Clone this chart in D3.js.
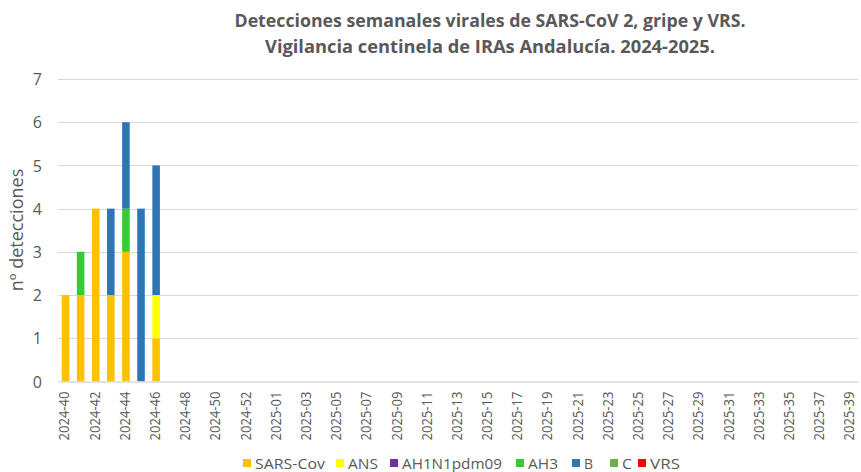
<!DOCTYPE html>
<html><head><meta charset="utf-8">
<script src="https://cdn.jsdelivr.net/npm/d3@7/dist/d3.min.js"></script>
<style>body{margin:0;background:#fff}svg{display:block}text{font-family:"Open Sans","Liberation Sans",sans-serif}</style>
</head><body>
<script>
const weeks = [];
for (let w = 40; w <= 53; w++) weeks.push("2024-" + w);
for (let w = 1; w <= 39; w++) weeks.push("2025-" + String(w).padStart(2, "0"));
const seriesNames = ["SARS-Cov", "ANS", "AH1N1pdm09", "AH3", "B", "C", "VRS"];
const seriesColors = ["#FFC000", "#FFFF00", "#7030A0", "#33CC33", "#2E75B6", "#70AD47", "#FF0000"];
const sarsCov   = [2, 2, 4, 2, 3, 0, 1];
const ans       = [0, 0, 0, 0, 0, 0, 1];
const ah1n1     = [0, 0, 0, 0, 0, 0, 0];
const ah3       = [0, 1, 0, 0, 1, 0, 0];
const fluB      = [0, 0, 0, 2, 2, 4, 3];
const fluC      = [0, 0, 0, 0, 0, 0, 0];
const vrs       = [0, 0, 0, 0, 0, 0, 0];
const yTicks = [0, 1, 2, 3, 4, 5, 6, 7];
const titleLines = ["Detecciones semanales virales de SARS-CoV 2, gripe y VRS.", "Vigilancia centinela de IRAs Andalucía. 2024-2025."];

const seriesVals = [sarsCov, ans, ah1n1, ah3, fluB, fluC, vrs];
const table = weeks.map((wk, i) => {
  const r = { week: wk };
  seriesNames.forEach((s, j) => r[s] = seriesVals[j][i] || 0);
  return r;
});

(function () {
const W = 861, H = 472;
const svg = d3.select("body").append("svg").attr("width", W).attr("height", H);
const pLeft = 58, pRight = 858, pTop = 79, pBottom = 381.5;
const x = d3.scaleBand().domain(weeks).range([pLeft, pRight]).paddingInner(0.5).paddingOuter(0.25);
const y = d3.scaleLinear().domain([0, 7]).range([pBottom, pTop]);

// grid
svg.append("g").selectAll("line").data(yTicks.filter(d => d > 0)).join("line")
  .attr("x1", pLeft).attr("x2", pRight)
  .attr("y1", d => Math.round(y(d)) + 0.5).attr("y2", d => Math.round(y(d)) + 0.5)
  .attr("stroke", "#D9D9D9").attr("stroke-width", 1);

// bars
const stack = d3.stack().keys(seriesNames)(table);
svg.append("g").selectAll("g").data(stack).join("g")
  .attr("fill", (d, i) => seriesColors[i])
  .selectAll("rect").data(d => d.filter(p => p[1] > p[0])).join("rect")
  .attr("x", p => x(p.data.week)).attr("width", x.bandwidth())
  .attr("y", p => y(p[1])).attr("height", p => y(p[0]) - y(p[1]));

// x axis line
svg.append("line").attr("x1", pLeft).attr("x2", pRight).attr("y1", pBottom + 0.5).attr("y2", pBottom + 0.5)
  .attr("stroke", "#D9D9D9").attr("stroke-width", 1.5);

// y tick labels
const yAxis = d3.axisLeft(y).tickValues(yTicks).tickFormat(d3.format("d")).tickSize(0).tickPadding(0);
const ya = svg.append("g").attr("transform", `translate(42,0)`).call(yAxis);
ya.select(".domain").remove();
ya.selectAll("text").attr("font-size", 16).attr("fill", "#595959").attr("dy", "0.35em")
  .style("font-family", '"Open Sans","Liberation Sans",sans-serif');

// x tick labels
const xAxis = d3.axisBottom(x).tickValues(weeks.filter((d, i) => i % 2 === 0)).tickSize(0).tickPadding(0);
const xa = svg.append("g").attr("transform", `translate(-1,${pBottom + 10})`).call(xAxis);
xa.select(".domain").remove();
xa.selectAll("text").attr("font-size", 14).attr("fill", "#595959")
  .attr("transform", "rotate(-90)").attr("text-anchor", "end")
  .attr("x", 0).attr("y", 0).attr("dx", 0).attr("dy", "0.35em")
  .style("font-family", '"Open Sans","Liberation Sans",sans-serif')
  .attr("textLength", 49).attr("lengthAdjust", "spacingAndGlyphs");

// y title
svg.append("text").attr("transform", "translate(23,230) rotate(-90)")
  .attr("text-anchor", "middle").attr("font-size", 18).attr("fill", "#595959")
  .text("nº detecciones");

// title
svg.append("g").selectAll("text").data(titleLines).join("text")
  .attr("x", 490).attr("y", (d, i) => 27 + i * 26)
  .attr("text-anchor", "middle").attr("font-size", 18).attr("font-weight", "bold").attr("fill", "#595959")
  .attr("textLength", (d, i) => i === 0 ? 511 : 450).attr("lengthAdjust", "spacingAndGlyphs")
  .text(d => d);

// legend
const legX = [243, 336, 390, 516, 572, 610, 638];
const legTextW = [70, 30, 100, 30, 9, 10, 30];
const leg = svg.append("g").selectAll("g").data(seriesNames).join("g")
  .attr("transform", (d, i) => `translate(${legX[i]},457)`);
leg.append("rect").attr("width", 8).attr("height", 8).attr("y", 2).attr("fill", (d, i) => seriesColors[i]);
leg.append("text").attr("x", 12).attr("y", 12).attr("font-size", 15).attr("fill", "#595959")
  .attr("textLength", (d, i) => legTextW[i]).attr("lengthAdjust", "spacingAndGlyphs")
  .text(d => d);
})();
</script>
</body></html>
